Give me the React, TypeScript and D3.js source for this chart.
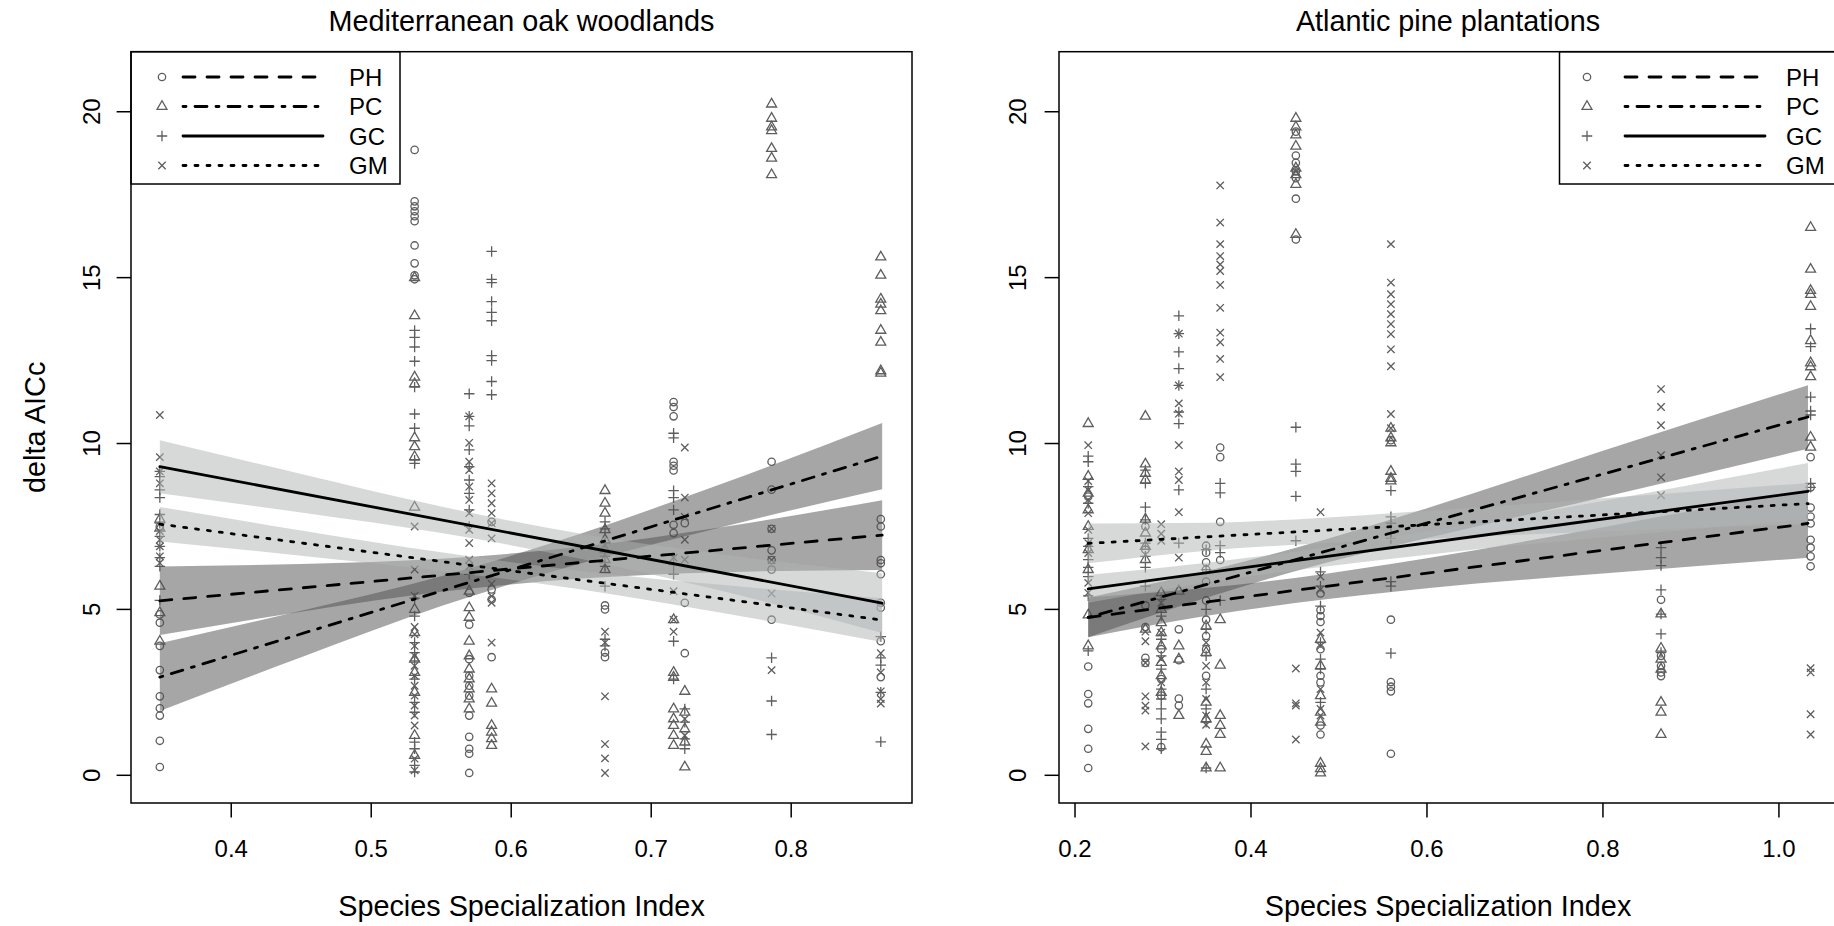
import React from 'react';
import * as d3 from 'd3';

// ---------------- shared axis values ----------------
const Y_TICKS = [0, 5, 10, 15, 20];
const MED_X_TICKS = [0.4, 0.5, 0.6, 0.7, 0.8];
const ATL_X_TICKS = [0.2, 0.4, 0.6, 0.8, 1.0];
const MODELS = ['PH', 'PC', 'GC', 'GM'];

// ---------------- Mediterranean oak woodlands ----------------
const MED_COLS = [0.349, 0.531, 0.570, 0.586, 0.667, 0.716, 0.724, 0.786, 0.864];
const MED_PH = [
  [7.5, 4.85, 4.6, 3.9, 3.17, 2.38, 2.02, 1.8, 1.04, 0.25],
  [18.85, 17.3, 17.15, 17.0, 16.85, 16.7, 15.97, 15.43, 15.07, 14.95],
  [5.5, 4.54, 3.5, 3.0, 2.7, 2.4, 1.8, 1.16, 0.8, 0.65, 0.07],
  [7.64, 5.6, 5.3, 3.56],
  [5.12, 5.0, 3.56, 3.7],
  [11.25, 11.1, 10.82, 9.45, 9.33, 9.19, 7.55, 7.3],
  [7.6, 5.2, 3.68],
  [9.45, 8.61, 7.43, 6.78, 6.49, 6.2, 4.69],
  [7.72, 7.5, 6.49, 6.39, 6.06, 5.2, 5.05, 4.04, 2.96],
];
const MED_PC = [
  [7.72, 7.45, 5.7, 4.9, 4.04],
  [15.0, 13.85, 12.0, 11.8, 10.17, 9.9, 9.6, 8.08, 5.0, 4.3, 3.5, 3.1, 2.5, 1.2, 0.6],
  [5.55, 5.05, 4.76, 4.04, 3.6, 3.2, 2.9, 2.6, 2.3, 2.0],
  [2.6, 2.17, 1.5, 1.3, 1.1, 0.9],
  [8.58, 8.2, 7.9, 7.4, 7.1, 6.8, 6.5, 6.2],
  [4.69, 3.1, 2.95, 2.0, 1.7, 1.5, 1.2, 0.9],
  [2.53, 1.9, 1.4, 1.0, 0.25],
  [20.23, 19.8, 19.54, 19.43, 18.89, 18.6, 18.1],
  [15.62, 15.07, 14.35, 14.2, 14.0, 13.41, 13.05, 12.19, 12.12],
];
const MED_GC = [
  [9.16, 9.0, 8.6, 8.37, 7.86, 7.6, 7.2, 6.9, 6.56, 6.3, 5.27],
  [13.41, 13.2, 12.91, 12.48, 11.7, 10.89, 10.46, 9.5, 9.4, 5.34, 4.8, 4.0, 3.7, 3.45, 2.9, 2.2, 1.9, 1.0, 0.8, 0.3, 0.1],
  [11.5, 10.82, 10.53, 9.81, 9.3, 8.9, 8.5, 8.0, 7.5, 6.06],
  [15.79, 14.95, 14.85, 14.28, 13.95, 13.7, 12.65, 12.5, 11.87, 11.47],
  [7.64, 7.43, 7.0, 6.6, 6.3, 5.7, 4.1, 3.9],
  [10.31, 10.17, 8.58, 8.37, 8.0, 6.35, 6.06, 4.04, 2.9],
  [2.0, 1.6, 1.1, 0.8],
  [3.54, 2.24, 1.23],
  [4.18, 3.54, 3.32, 2.5, 1.01],
];
const MED_GM = [
  [10.86, 9.59, 9.16, 8.8, 7.36, 7.1, 6.9, 6.6, 6.4],
  [7.5, 6.2, 5.41, 4.47, 4.25, 3.9, 3.6, 3.3, 3.0, 2.7, 2.4, 2.1, 1.8, 1.5, 0.5, 0.15],
  [10.82, 10.02, 9.45, 9.2, 8.7, 8.3, 7.9, 7.4, 7.0, 6.5, 6.3],
  [8.8, 8.5, 8.2, 7.9, 7.6, 7.14, 5.77, 5.4, 5.2, 4.0],
  [4.33, 4.0, 2.38, 0.94, 0.51, 0.07],
  [6.56, 5.55, 4.69, 4.33],
  [9.88, 8.37, 7.79, 7.1, 6.5, 1.7, 1.2],
  [7.43, 6.49, 5.48, 3.17],
  [3.68, 3.1, 2.53, 2.3, 2.16],
];
// fitted lines (ends) and confidence bands
const MED_FIT_X = [0.349, 0.865];
const MED_FIT_PH = [5.26, 7.24];
const MED_FIT_PC = [2.96, 9.62];
const MED_FIT_GC = [9.30, 5.19];
const MED_FIT_GM = [7.57, 4.68];
const MED_BAND_X = [0.349, 0.45, 0.55, 0.65, 0.75, 0.865];
const MED_PH_LO = [4.23, 4.93, 5.53, 5.93, 6.12, 6.19];
const MED_PH_HI = [6.29, 6.37, 6.53, 6.89, 7.48, 8.29];
const MED_PC_LO = [1.94, 3.56, 5.10, 6.39, 7.48, 8.62];
const MED_PC_HI = [3.98, 4.96, 6.00, 7.29, 8.78, 10.62];
const MED_GC_LO = [8.50, 7.92, 7.30, 6.52, 5.56, 4.29];
const MED_GC_HI = [10.10, 9.08, 8.10, 7.28, 6.66, 6.09];
const MED_GM_LO = [7.05, 6.62, 6.16, 5.60, 4.90, 4.02];
const MED_GM_HI = [8.09, 7.38, 6.72, 6.16, 5.74, 5.34];

// ---------------- Atlantic pine plantations ----------------
const ATL_COLS = [0.215, 0.280, 0.298, 0.318, 0.349, 0.365, 0.451, 0.479, 0.559, 0.866, 1.036];
const ATL_PH = [
  [8.4, 3.28, 2.45, 2.17, 1.4, 0.8, 0.22],
  [7.5, 6.8, 5.12, 4.47, 3.54, 3.39],
  [3.8, 2.9, 2.4, 0.85],
  [4.4, 3.47, 2.31, 2.1],
  [6.92, 6.71, 6.42, 6.2, 5.84, 5.27, 4.69, 4.2, 3.8, 3.0],
  [9.88, 9.59, 7.64, 6.49],
  [19.4, 18.68, 18.46, 18.2, 18.0, 17.38, 16.15],
  [5.48, 4.98, 4.8, 4.62, 3.8, 3.0, 2.8, 1.5, 1.23],
  [10.1, 4.69, 2.81, 2.67, 2.53, 0.65],
  [5.29, 3.6, 3.3, 3.1, 2.99],
  [9.59, 8.68, 8.07, 7.8, 7.59, 7.1, 6.86, 6.6, 6.3],
];
const ATL_PC = [
  [10.6, 9.01, 8.5, 8.0, 7.5, 6.8, 6.2, 4.83, 3.9],
  [10.82, 9.38, 9.1, 8.9, 7.72, 7.3, 6.9, 6.5, 4.4],
  [5.5, 5.0, 4.6, 4.3, 3.9, 3.4, 3.0, 2.5],
  [5.55, 3.9, 3.5, 1.8],
  [4.5, 3.7, 2.2, 1.7, 0.94, 0.72, 0.22],
  [4.69, 3.32, 1.8, 1.5, 1.23, 0.22],
  [19.8, 19.54, 19.3, 18.96, 18.3, 18.1, 17.81, 16.3],
  [4.1, 3.3, 2.4, 1.9, 1.6, 0.36, 0.2, 0.07],
  [10.46, 10.17, 10.02, 9.16, 8.95, 8.87],
  [4.86, 3.83, 3.5, 3.2, 2.2, 1.9, 1.23],
  [16.51, 15.25, 14.61, 14.49, 14.13, 13.1, 12.43, 12.31, 12.01, 10.19, 9.89],
];
const ATL_GC = [
  [9.62, 9.45, 8.7, 8.2, 7.14, 6.9, 6.5, 6.27, 5.99, 5.41, 3.75],
  [9.2, 8.8, 8.08, 7.7, 7.0, 6.6, 6.27, 5.7],
  [5.3, 4.8, 4.1, 3.6, 3.2, 2.6, 2.3, 2.0, 1.7, 1.3, 1.08, 0.8],
  [13.85, 13.31, 12.76, 12.26, 11.75, 10.95, 10.6, 8.6, 7.0],
  [6.8, 6.2, 5.0, 4.4, 3.6, 2.6, 2.0, 1.6, 0.22],
  [8.8, 8.51, 6.92, 6.71, 5.27],
  [10.49, 9.38, 9.16, 8.41, 7.07],
  [6.13, 5.7, 5.1, 4.0, 3.5, 3.2, 2.2],
  [8.58, 7.79, 7.6, 7.3, 7.14, 5.84, 5.7, 3.68],
  [6.86, 6.56, 6.32, 5.59, 4.86, 4.26, 3.7],
  [13.46, 12.92, 11.4, 10.98, 10.86, 8.8, 8.68],
];
const ATL_GM = [
  [9.95, 8.87, 8.6, 8.3, 7.9, 7.4, 7.0, 6.7, 5.8, 5.5],
  [4.33, 4.04, 3.39, 2.38, 2.1, 1.95, 0.87],
  [7.57, 7.28, 7.07, 5.2, 4.3, 3.5, 2.8],
  [13.31, 11.75, 11.21, 10.9, 9.95, 9.16, 8.9, 7.93, 6.56],
  [4.0, 3.3, 2.8, 2.3, 1.8, 1.52],
  [17.78, 16.66, 16.01, 15.65, 15.4, 15.2, 14.78, 14.09, 13.34, 13.05, 12.55, 12.0],
  [18.2, 3.22, 2.17, 2.1, 1.08],
  [7.93, 5.99, 5.6, 4.3, 3.9, 2.6, 2.0, 1.8],
  [16.01, 14.85, 14.5, 14.2, 13.9, 13.6, 13.3, 12.84, 12.33, 10.89, 10.46],
  [11.64, 11.1, 10.55, 9.65, 8.98, 8.44],
  [3.23, 3.1, 1.84, 1.23],
];
const ATL_FIT_X = [0.215, 1.033];
const ATL_FIT_PH = [4.76, 7.59];
const ATL_FIT_PC = [4.76, 10.80];
const ATL_FIT_GC = [5.62, 8.56];
const ATL_FIT_GM = [6.99, 8.19];
const ATL_BAND_X = [0.215, 0.35, 0.45, 0.6, 0.8, 1.033];
const ATL_PH_LO = [4.16, 4.81, 5.19, 5.64, 6.08, 6.56];
const ATL_PH_HI = [5.36, 5.65, 5.95, 6.54, 7.48, 8.62];
const ATL_PC_LO = [4.16, 5.36, 6.15, 7.15, 8.38, 9.84];
const ATL_PC_HI = [5.36, 6.16, 6.85, 8.05, 9.78, 11.76];
const ATL_GC_LO = [5.20, 5.81, 6.18, 6.65, 7.17, 7.71];
const ATL_GC_HI = [6.04, 6.41, 6.74, 7.35, 8.27, 9.41];
const ATL_GM_LO = [6.39, 6.77, 6.95, 7.13, 7.35, 7.57];
const ATL_GM_HI = [7.59, 7.61, 7.71, 7.97, 8.35, 8.81];

// ---------------- styles ----------------
const FONT = '"Liberation Sans", Arial, Helvetica, sans-serif';
const PT_COL = '#5e5e5e';
const DASH: Record<string, string | undefined> = { PH: '12 12', PC: '3 9 12 9', GC: undefined, GM: '3 9' };
const BAND_FILL: Record<string, string> = { PH: '#4d4d4d', PC: '#4d4d4d', GC: '#b0b4b4', GM: '#b0b4b4' };
const SYMBOL: Record<string, string> = { PH: 'circle', PC: 'triangle', GC: 'plus', GM: 'cross' };
const R0 = 3.7;

const TOP = 51.7;
const BOTTOM = 803;
const Y_DOMAIN = [-0.835, 21.81];

function Sym({ kind, x, y }: { kind: string; x: number; y: number }) {
  const common = { fill: 'none', stroke: PT_COL, strokeWidth: 1.3 };
  if (kind === 'circle') return <circle cx={x} cy={y} r={R0} {...common} />;
  if (kind === 'triangle') {
    const r = 1.555 * R0, xc = 1.347 * R0, yc = 0.778 * R0;
    return <path d={`M${x},${y - r}L${x + xc},${y + yc}L${x - xc},${y + yc}Z`} {...common} />;
  }
  if (kind === 'plus') {
    const h = 1.4142 * R0;
    return <path d={`M${x - h},${y}H${x + h}M${x},${y - h}V${y + h}`} {...common} />;
  }
  return <path d={`M${x - R0},${y - R0}L${x + R0},${y + R0}M${x - R0},${y + R0}L${x + R0},${y - R0}`} {...common} />;
}

type PanelDef = {
  title: string; left: number; right: number; xDomain: number[]; xTicks: number[];
  cols: number[]; data: Record<string, number[][]>;
  fitX: number[]; fits: Record<string, number[]>;
  bandX: number[]; lo: Record<string, number[]>; hi: Record<string, number[]>;
  legend: { x0: number; x1: number; sym: number; l0: number; l1: number; tx: number };
  ylab: boolean; yLabOff: number;
};

const PANELS: PanelDef[] = [
  {
    title: 'Mediterranean oak woodlands', left: 131, right: 912, xDomain: [0.3284, 0.8863], xTicks: MED_X_TICKS,
    cols: MED_COLS, data: { PH: MED_PH, PC: MED_PC, GC: MED_GC, GM: MED_GM },
    fitX: MED_FIT_X, fits: { PH: MED_FIT_PH, PC: MED_FIT_PC, GC: MED_FIT_GC, GM: MED_FIT_GM },
    bandX: MED_BAND_X,
    lo: { PH: MED_PH_LO, PC: MED_PC_LO, GC: MED_GC_LO, GM: MED_GM_LO },
    hi: { PH: MED_PH_HI, PC: MED_PC_HI, GC: MED_GC_HI, GM: MED_GM_HI },
    legend: { x0: 131, x1: 400, sym: 162, l0: 183, l1: 323, tx: 349 },
    ylab: true, yLabOff: 40,
  },
  {
    title: 'Atlantic pine plantations', left: 1059, right: 1837, xDomain: [0.1818, 1.066], xTicks: ATL_X_TICKS,
    cols: ATL_COLS, data: { PH: ATL_PH, PC: ATL_PC, GC: ATL_GC, GM: ATL_GM },
    fitX: ATL_FIT_X, fits: { PH: ATL_FIT_PH, PC: ATL_FIT_PC, GC: ATL_FIT_GC, GM: ATL_FIT_GM },
    bandX: ATL_BAND_X,
    lo: { PH: ATL_PH_LO, PC: ATL_PC_LO, GC: ATL_GC_LO, GM: ATL_GM_LO },
    hi: { PH: ATL_PH_HI, PC: ATL_PC_HI, GC: ATL_GC_HI, GM: ATL_GM_HI },
    legend: { x0: 1559.5, x1: 1837, sym: 1587, l0: 1625, l1: 1765, tx: 1786 },
    ylab: false, yLabOff: 42,
  },
];

const LEG_ROWS = [77, 106.5, 136, 165.5];

function Panel({ p }: { p: PanelDef }) {
  const x = d3.scaleLinear().domain(p.xDomain).range([p.left, p.right]);
  const y = d3.scaleLinear().domain(Y_DOMAIN).range([BOTTOM, TOP]);
  const fmt = d3.format('.1f');
  const cx = (p.left + p.right) / 2;
  const line = d3.line<number>().x((_, i) => x(p.fitX[i])).y((d) => y(d));

  return (
    <g>
      {/* points */}
      {MODELS.map((m) =>
        p.data[m].map((vals, ci) =>
          vals.map((v, k) => <Sym key={`${m}-${ci}-${k}`} kind={SYMBOL[m]} x={x(p.cols[ci])} y={y(v)} />)
        )
      )}
      {/* confidence bands */}
      {MODELS.map((m) => {
        const area = d3
          .area<number>()
          .x((_, i) => x(p.bandX[i]))
          .y0((_, i) => y(p.lo[m][i]))
          .y1((_, i) => y(p.hi[m][i]))
          .curve(d3.curveMonotoneX);
        return <path key={`band-${m}`} d={area(p.bandX) || ''} fill={BAND_FILL[m]} fillOpacity={0.5} stroke="none" />;
      })}
      {/* fitted lines */}
      {MODELS.map((m) => (
        <path key={`fit-${m}`} d={line(p.fits[m]) || ''} fill="none" stroke="#000" strokeWidth={2.8}
          strokeDasharray={DASH[m]} strokeLinecap="round" />
      ))}
      {/* axes */}
      {Y_TICKS.map((t) => (
        <g key={`yt-${t}`}>
          <line x1={p.left - 14.4} x2={p.left} y1={y(t)} y2={y(t)} stroke="#000" strokeWidth={1.5} />
          <text transform={`translate(${p.left - p.yLabOff},${y(t)}) rotate(-90)`} textAnchor="middle" dy="0.36em"
            fontSize={24} fontFamily={FONT}>{t}</text>
        </g>
      ))}
      {p.xTicks.map((t) => (
        <g key={`xt-${t}`}>
          <line x1={x(t)} x2={x(t)} y1={BOTTOM} y2={BOTTOM + 14.4} stroke="#000" strokeWidth={1.5} />
          <text x={x(t)} y={857} textAnchor="middle" fontSize={24} fontFamily={FONT}>{fmt(t)}</text>
        </g>
      ))}
      <text x={cx} y={916} textAnchor="middle" fontSize={28.8} fontFamily={FONT}>Species Specialization Index</text>
      <text x={cx} y={31} textAnchor="middle" fontSize={28.8} fontFamily={FONT}>{p.title}</text>
      {p.ylab && (
        <text transform={`translate(45,${(TOP + BOTTOM) / 2}) rotate(-90)`} textAnchor="middle" fontSize={28.8}
          fontFamily={FONT}>delta AICc</text>
      )}
      {/* legend */}
      <rect x={p.legend.x0} y={TOP} width={p.legend.x1 - p.legend.x0} height={184 - TOP} fill="#fff" stroke="#000"
        strokeWidth={1.5} />
      {MODELS.map((m, i) => (
        <g key={`leg-${m}`}>
          <Sym kind={SYMBOL[m]} x={p.legend.sym} y={LEG_ROWS[i]} />
          <line x1={p.legend.l0} x2={p.legend.l1} y1={LEG_ROWS[i]} y2={LEG_ROWS[i]} stroke="#000" strokeWidth={2.8}
            strokeDasharray={DASH[m]} strokeLinecap="round" />
          <text x={p.legend.tx} y={LEG_ROWS[i]} dy="0.36em" fontSize={24} fontFamily={FONT}>{m}</text>
        </g>
      ))}
      {/* box */}
      <rect x={p.left} y={TOP} width={p.right - p.left} height={BOTTOM - TOP} fill="none" stroke="#000"
        strokeWidth={1.5} />
    </g>
  );
}

export default function App() {
  return (
    <svg width={1834} height={926} viewBox="0 0 1834 926"
      style={{ position: 'absolute', left: 0, top: 0, display: 'block', background: '#fff' }}>
      <rect x={0} y={0} width={1834} height={926} fill="#fff" />
      {PANELS.map((p) => <Panel key={p.title} p={p} />)}
    </svg>
  );
}
